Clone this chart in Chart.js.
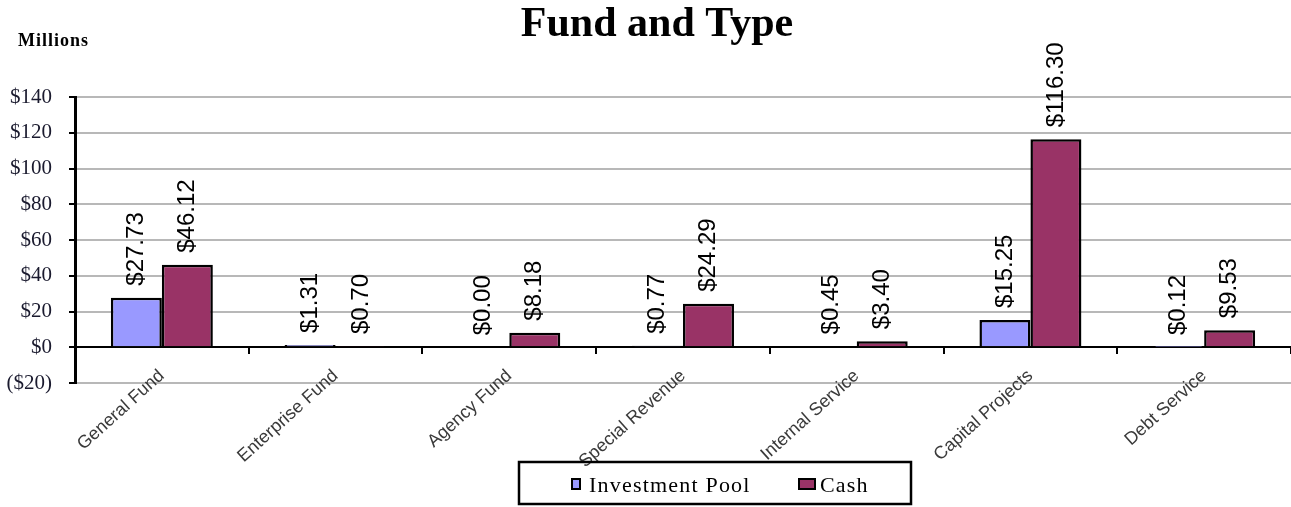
<!DOCTYPE html>
<html>
<head>
<meta charset="utf-8">
<script src="https://cdn.jsdelivr.net/npm/chart.js@4/dist/chart.umd.min.js"></script>
<style>
  html, body { margin: 0; padding: 0; background: #fff; }
  #wrap { width: 1291px; height: 507px; }
</style>
</head>
<body>
<div id="wrap"><canvas id="barChart"></canvas></div>
<script>
var funds = ['General Fund', 'Enterprise Fund', 'Agency Fund', 'Special Revenue', 'Internal Service', 'Capital Projects', 'Debt Service'];
var investmentPool = [27.73, 1.31, 0.00, 0.77, 0.45, 15.25, 0.12];
var cash = [46.12, 0.70, 8.18, 24.29, 3.40, 116.30, 9.53];
var seriesNames = ['Investment Pool', 'Cash'];
var seriesColors = ['#9999ff', '#993366'];

// value labels above each bar, rotated like the excel original
var valueLabels = {
  id: 'valueLabels',
  afterDatasetsDraw: function(chart) {
    var ctx = chart.ctx;
    ctx.save();
    ctx.font = '24px "Liberation Sans", Arial, sans-serif';
    ctx.fillStyle = '#000';
    ctx.textAlign = 'left';
    ctx.textBaseline = 'middle';
    chart.data.datasets.forEach(function(ds, i) {
      chart.getDatasetMeta(i).data.forEach(function(bar, j) {
        ctx.save();
        ctx.translate(bar.x, bar.y - 12);
        ctx.rotate(-Math.PI / 2);
        ctx.fillText('$' + ds.data[j].toFixed(2), 0, 0);
        ctx.restore();
      });
    });
    ctx.restore();
  }
};

// title, units note and boxed legend
var decorations = {
  id: 'decorations',
  afterDraw: function(chart) {
    var ctx = chart.ctx;
    ctx.save();
    ctx.fillStyle = '#000';
    ctx.textBaseline = 'alphabetic';

    ctx.font = 'bold 42px "Liberation Serif", "Times New Roman", serif';
    ctx.textAlign = 'center';
    ctx.fillText('Fund and Type', 657, 36);

    ctx.font = 'bold 18px "Liberation Serif", "Times New Roman", serif';
    ctx.textAlign = 'left';
    ctx.letterSpacing = '1px';
    ctx.fillText('Millions', 18, 46);

    // legend box
    ctx.letterSpacing = '0px';
    ctx.lineWidth = 2.5;
    ctx.strokeStyle = '#000';
    ctx.strokeRect(519, 462, 392, 42);

    var items = [
      { x: 572, w: 8, textX: 589 },
      { x: 799, w: 16, textX: 820 }
    ];
    ctx.font = '22px "Liberation Serif", "Times New Roman", serif';
    ctx.letterSpacing = '1.2px';
    chart.data.datasets.forEach(function(ds, i) {
      var it = items[i];
      ctx.fillStyle = ds.backgroundColor;
      ctx.fillRect(it.x, 479, it.w, 10);
      ctx.lineWidth = 2;
      ctx.strokeRect(it.x, 479, it.w, 10);
      ctx.fillStyle = '#000';
      ctx.fillText(ds.label, it.textX, 492);
    });
    ctx.restore();
  }
};

function createChart() {
  var el = document.getElementById('barChart');
  new Chart(el, {
    type: 'bar',
    data: {
      labels: funds,
      datasets: [
        {
          label: seriesNames[0],
          data: investmentPool,
          backgroundColor: seriesColors[0],
          borderColor: '#000',
          borderWidth: 2.5
        },
        {
          label: seriesNames[1],
          data: cash,
          backgroundColor: seriesColors[1],
          borderColor: '#000',
          borderWidth: 2.5
        }
      ]
    },
    options: {
      responsive: true,
      maintainAspectRatio: false,
      animation: false,
      categoryPercentage: 0.587,
      barPercentage: 1.0,
      layout: {
        padding: { top: 97, right: 0, bottom: 124, left: 0 }
      },
      scales: {
        x: {
          position: { y: 0 }, // category axis sits on the zero line
          grid: {
            display: true,
            drawOnChartArea: false,
            drawTicks: true,
            tickLength: 6,
            color: '#000',
            lineWidth: 2
          },
          border: { display: true, color: '#000', width: 2 },
          ticks: {
            minRotation: 42,
            maxRotation: 42,
            autoSkip: false,
            padding: 12,
            color: '#3a3a3a',
            font: { family: '"Liberation Sans", Arial, sans-serif', size: 18 }
          }
        },
        y: {
          min: -20,
          max: 140,
          afterFit: function(scale) { scale.width = 75; },
          grid: {
            color: function(c) { return c.tick && c.tick.value === 0 ? '#000' : '#b8b8b8'; },
            lineWidth: 2,
            tickLength: 6,
            tickColor: '#000'
          },
          border: { display: true, color: '#000', width: 3 },
          ticks: {
            stepSize: 20,
            padding: 17,
            color: '#1a1a2e',
            font: { family: '"Liberation Serif", "Times New Roman", serif', size: 21 },
            callback: function(v) { return v < 0 ? '($' + (-v) + ')' : '$' + v; }
          }
        }
      },
      plugins: {
        legend: { display: false },
        title: { display: false },
        tooltip: { enabled: false }
      }
    },
    plugins: [valueLabels, decorations]
  });
}

window.onload = function() {
  createChart();
};
</script>
</body>
</html>
